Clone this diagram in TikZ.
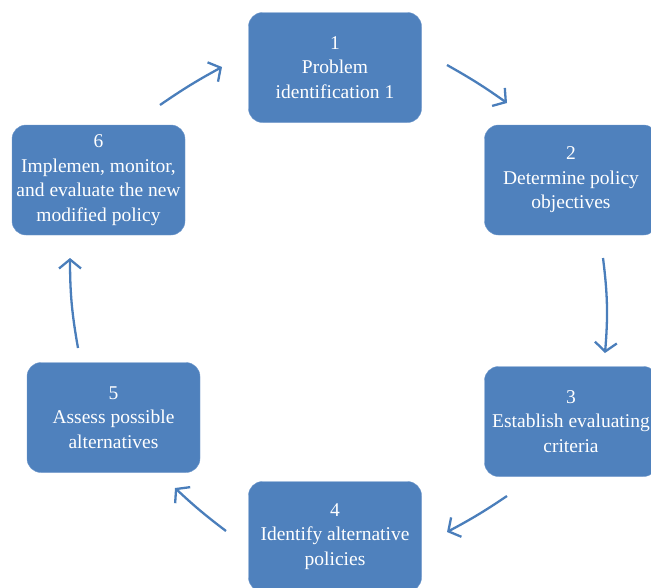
\documentclass[tikz,border=0pt]{standalone}
\usepackage{fontspec}
\setmainfont{Liberation Serif}
\usetikzlibrary{arrows.meta}
\definecolor{boxblue}{HTML}{4F81BD}
\definecolor{edgeblue}{HTML}{7099CC}
\definecolor{arrowblue}{HTML}{4A7EBB}
\tikzset{
  stepbox/.style={draw=edgeblue, fill=boxblue, rounded corners=14pt, minimum width=173pt, minimum height=110pt, inner sep=0pt, text=white, align=center, font=\fontsize{19.5}{24.5}\selectfont},
  flow/.style={draw=arrowblue, line width=2.3pt, -{Straight Barb[length=9pt,width=22pt]}}
}
\begin{document}
\begin{tikzpicture}[x=1pt,y=-1pt]
\useasboundingbox (0,0) rectangle (651,587);
\node[stepbox] (b1) at (335,67.5) {1\\Problem\\identification 1};
\node[stepbox] (b2) at (571,180) {2\\Determine policy\\objectives};
\node[stepbox] (b3) at (571,421.5) {3\\Establish evaluating\\criteria};
\node[stepbox] (b4) at (335,536.5) {4\\Identify alternative\\policies};
\node[stepbox] (b5) at (113.5,417.5) {5\\Assess possible\\alternatives};
\node[stepbox] (b6) at (98.5,180) {6\\Implemen, monitor,\\and evaluate the new\\modified policy};
% arrow ends
\coordinate (s12) at (447,65);
\coordinate (e12) at (507,103);
\coordinate (s23) at (603,258);
\coordinate (e23) at (605,353);
\coordinate (s34) at (507,496);
\coordinate (e34) at (447,532);
\coordinate (s45) at (226,531);
\coordinate (e45) at (175,488);
\coordinate (s56) at (78,348);
\coordinate (e56) at (70,258);
\coordinate (s61) at (160,105);
\coordinate (e61) at (222,67);
\draw[flow] (s12) to[bend left=3] (e12);
\draw[flow] (s23) to[bend left=6] (e23);
\draw[flow] (s34) to[bend left=3] (e34);
\draw[flow] (s45) to[bend left=3] (e45);
\draw[flow] (s56) to[bend left=5] (e56);
\draw[flow] (s61) to[bend left=3] (e61);
\end{tikzpicture}
\end{document}
